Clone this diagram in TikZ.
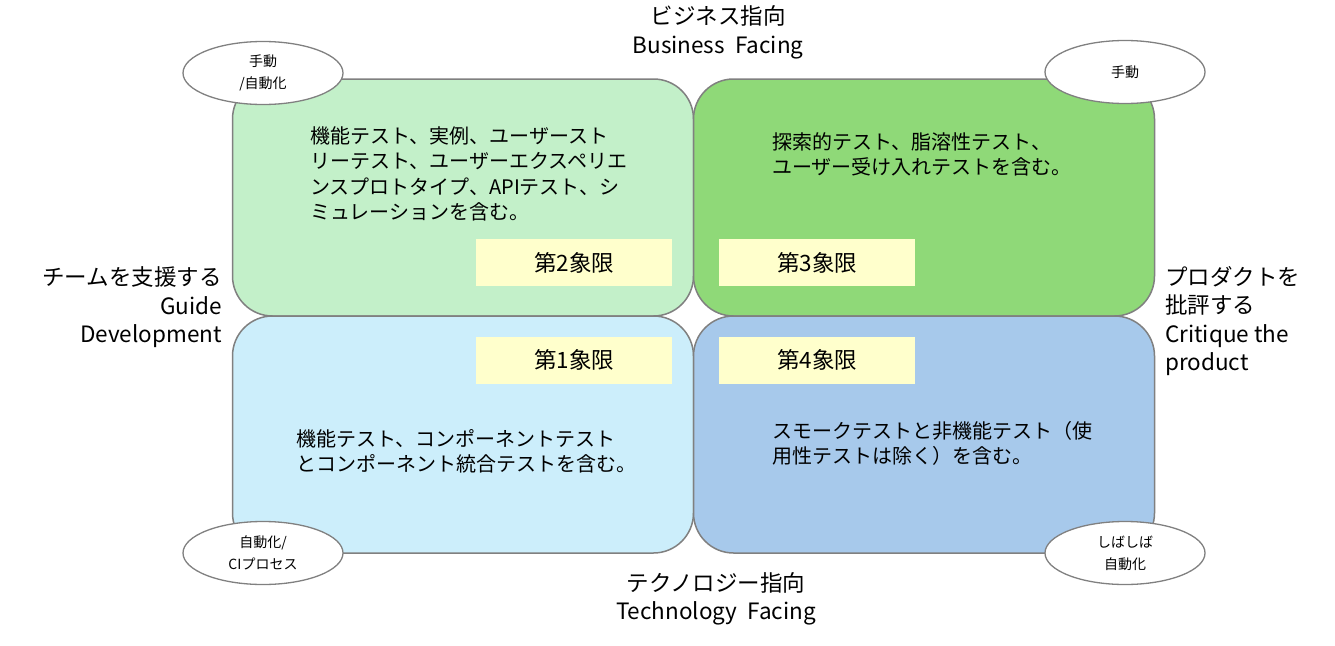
\documentclass[tikz,border=0pt]{standalone}
\usepackage{fontspec}
\setmainfont{Noto Sans CJK JP}
\usepackage{xcolor}
\usetikzlibrary{shapes.geometric}
\definecolor{quadone}{HTML}{CCEEFB}
\definecolor{quadtwo}{HTML}{C3F0C9}
\definecolor{quadthree}{HTML}{8FD978}
\definecolor{quadfour}{HTML}{A7C9EB}
\definecolor{labyellow}{HTML}{FFFFCC}
\definecolor{edgegray}{HTML}{808080}
\begin{document}
\begin{tikzpicture}[x=1pt,y=-1pt,
  quad/.style={draw=edgegray, line width=1.5pt, rounded corners=40pt, minimum width=461pt, minimum height=237pt, inner sep=0pt},
  labelbox/.style={fill=labyellow, minimum width=196pt, minimum height=47pt, inner sep=0pt, font=\fontsize{22.5}{25}\selectfont},
  body/.style={align=left, anchor=north west, inner sep=0pt, font=\fontsize{20}{25.5}\selectfont},
  tag/.style={ellipse, draw=edgegray, fill=white, line width=1.3pt, minimum width=160pt, minimum height=63pt, inner sep=0pt, align=center, font=\fontsize{14}{22}\selectfont},
  side/.style={inner sep=0pt, font=\fontsize{22.5}{28.5}\selectfont}] % styles of the matrix
   \useasboundingbox (0,0) rectangle (1335,645);
   % the four quadrants
   \node[quad, fill=quadtwo] (q2) at (463,197.5) {};
   \node[quad, fill=quadthree] (q3) at (924,197.5) {};
   \node[quad, fill=quadone] (q1) at (463,434.5) {};
   \node[quad, fill=quadfour] (q4) at (924,434.5) {};
   % quadrant names
   \node[labelbox] (lab2) at (574,262.5) {第2象限};
   \node[labelbox] (lab3) at (817,262.5) {第3象限};
   \node[labelbox] (lab1) at (574,360) {第1象限};
   \node[labelbox] (lab4) at (817,360) {第4象限};
   % contents of each quadrant
   \node[body] (txt2) at (310,126) {機能テスト、実例、ユーザースト\\リーテスト、ユーザーエクスペリエ\\ンスプロトタイプ、APIテスト、シ\\ミュレーションを含む。};
   \node[body] (txt3) at (772,132) {探索的テスト、脂溶性テスト、\\ユーザー受け入れテストを含む。};
   \node[body] (txt1) at (296,429) {機能テスト、コンポーネントテスト\\とコンポーネント統合テストを含む。};
   \node[body] (txt4) at (772,421) {スモークテストと非機能テスト（使\\用性テストは除く）を含む。};
   % manual / automated tags on the corners
   \node[tag] (tag2) at (263,73) {手動\\/自動化};
   \node[tag] (tag3) at (1125,72) {手動};
   \node[tag] (tag1) at (263,553) {自動化/\\CIプロセス};
   \node[tag] (tag4) at (1125,553) {しばしば\\自動化};
   % axis labels
   \node[side, align=center] (top) at (718,32.5) {ビジネス指向\\Business\ \ Facing};
   \node[side, align=center] (bottom) at (716,599) {テクノロジー指向\\Technology\ \ Facing};
   \node[side, align=right, anchor=east] (left) at (222,307.5) {チームを支援する\\Guide\\Development};
   \node[side, align=left, anchor=west] (right) at (1165,321) {プロダクトを\\批評する\\Critique\ the\\product};
\end{tikzpicture}
\end{document}
